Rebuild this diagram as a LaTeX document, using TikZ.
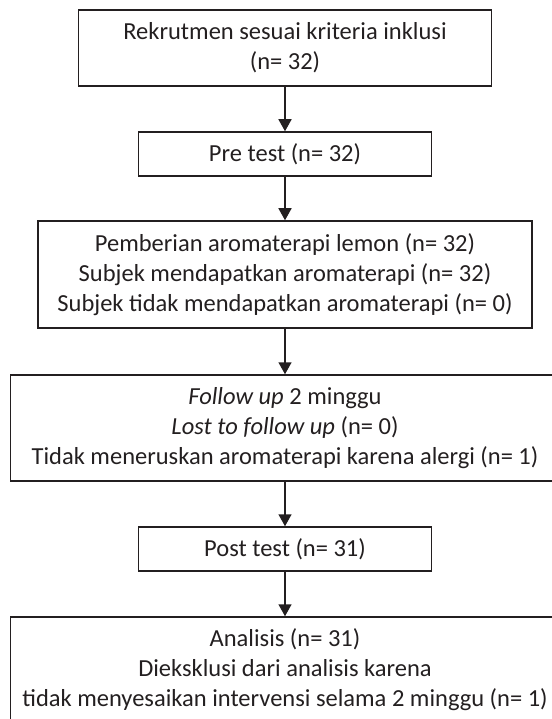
\documentclass[tikz,border=0pt]{standalone}
\usepackage{fontspec}
\setmainfont{Carlito}
\usetikzlibrary{arrows.meta}
\definecolor{ink}{HTML}{231F20}

\tikzset{
  flowbox/.style={draw=ink, text=ink, line width=1.5pt, inner sep=0pt, align=center,
    font=\fontsize{24.5}{30}\selectfont},
  flowarrow/.style={draw=ink, line width=1.5pt, -{Triangle[length=12pt,width=13pt]}}
}

\begin{document}
\begin{tikzpicture}[x=1pt,y=-1pt]
			\useasboundingbox (0,0) rectangle (551,719);
			% Boxes
			\node[flowbox, minimum width=413pt, minimum height=76pt] (rekrut) at (285, 48) {Rekrutmen sesuai kriteria inklusi\\(n= 32)};
			\node[flowbox, minimum width=293pt, minimum height=44pt] (pre) at (285, 154) {Pre test (n= 32)};
			\node[flowbox, minimum width=494pt, minimum height=107pt] (beri) at (285, 274.5) {Pemberian aromaterapi lemon (n= 32)\\Subjek mendapatkan aromaterapi (n= 32)\\Subjek tidak mendapatkan aromaterapi (n= 0)};
			\node[flowbox, minimum width=549pt, minimum height=106pt] (follow) at (285, 428) {\textit{Follow up} 2 minggu\\\textit{Lost to follow up} (n= 0)\\Tidak meneruskan aromaterapi karena alergi (n= 1)};
			\node[flowbox, minimum width=293pt, minimum height=44pt] (post) at (285, 549) {Post test (n= 31)};
			\node[flowbox, minimum width=549pt, minimum height=105pt] (analisis) at (285, 669.5) {Analisis (n= 31)\\Dieksklusi dari analisis karena\\tidak menyesaikan intervensi selama 2 minggu (n= 1)};

			% Arrows
			\draw[flowarrow] (rekrut) -- (pre);
			\draw[flowarrow] (pre) -- (beri);
			\draw[flowarrow] (beri) -- (follow);
			\draw[flowarrow] (follow) -- (post);
			\draw[flowarrow] (post) -- (analisis);
		\end{tikzpicture}
\end{document}
